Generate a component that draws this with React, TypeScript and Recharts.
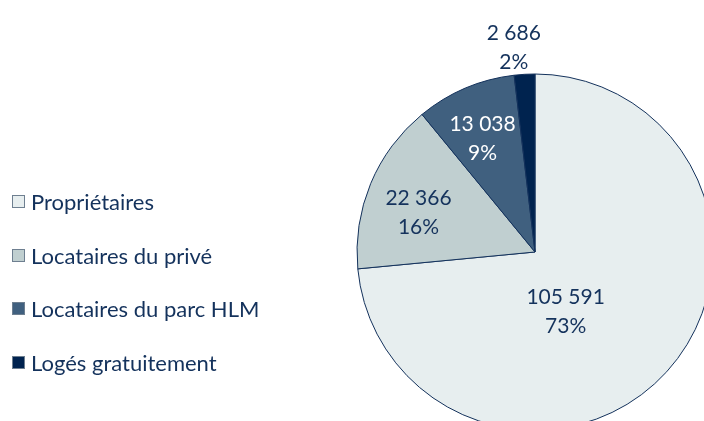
import { PieChart, Pie, Cell } from 'recharts';

const categories = ['Propriétaires', 'Locataires du privé', 'Locataires du parc HLM', 'Logés gratuitement'];
const households = [105591, 22366, 13038, 2686];
const sliceColors = ['#E7EEEF', '#C0CFD0', '#40607F', '#00234F'];
const labelColors = ['#14325C', '#14325C', '#FFFFFF', '#14325C'];
// label placement: share of the radius, then a small nudge
const labelRadius = [0.4, 0.66, 0.68, 1.16];
const labelNudge = [
  [-22, 10],
  [-8, 4],
  [-5, -4],
  [-9, 0],
];

const data = categories.map((name, i) => ({ name, value: households[i] }));

const FONT = 'Lato, "Open Sans", sans-serif';
const RAD = Math.PI / 180;

const fmt = (n: number) => String(n).replace(/\B(?=(\d{3})+(?!\d))/g, ' ');

const renderLabel = (props: any) => {
  const { cx, cy, midAngle, outerRadius, percent, value, index } = props;
  const r = outerRadius * labelRadius[index];
  const x = cx + r * Math.cos(-midAngle * RAD) + labelNudge[index][0];
  const y = cy + r * Math.sin(-midAngle * RAD) + labelNudge[index][1];
  return (
    <text
      x={x}
      y={y}
      textAnchor="middle"
      fill={labelColors[index]}
      fontFamily={FONT}
      fontSize={21}
    >
      <tspan x={x} dy={-6}>{fmt(value)}</tspan>
      <tspan x={x} dy={29}>{Math.round(percent * 100)}%</tspan>
    </text>
  );
};

const LegendBox = () => (
  <div
    style={{
      position: 'absolute',
      left: 12,
      top: 175,
      fontFamily: FONT,
      fontSize: 22,
      color: '#14325C',
    }}
  >
    {categories.map((name, i) => (
      <div key={name} style={{ display: 'flex', alignItems: 'center', height: 53.5 }}>
        <span
          style={{
            display: 'inline-block',
            width: 11,
            height: 11,
            background: sliceColors[i],
            border: '1px solid #6E7F90',
            marginRight: 6,
          }}
        />
        {name}
      </div>
    ))}
  </div>
);

export default function App() {
  return (
    <div
      style={{
        position: 'fixed',
        left: 0,
        top: 0,
        width: 704,
        height: 421,
        background: '#fff',
      }}
    >
      <PieChart width={704} height={440} margin={{ top: 0, right: 0, bottom: 0, left: 0 }}>
        <Pie
          data={data}
          dataKey="value"
          nameKey="name"
          cx={535}
          cy={252}
          outerRadius={178}
          startAngle={90}
          endAngle={-270}
          stroke="#14325C"
          strokeWidth={1}
          label={renderLabel}
          labelLine={false}
          isAnimationActive={false}
        >
          {data.map((d, i) => (
            <Cell key={d.name} fill={sliceColors[i]} />
          ))}
        </Pie>
      </PieChart>
      <LegendBox />
    </div>
  );
}
